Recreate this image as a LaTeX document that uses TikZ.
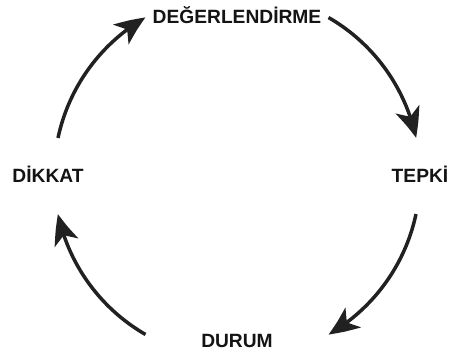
\documentclass[tikz,border=0pt]{standalone}
\usepackage{fontspec}
\setmainfont{Liberation Sans}
\usetikzlibrary{arrows.meta,bending}
\begin{document}
\begin{tikzpicture}[x=1pt,y=1pt,
  label/.style={font=\bfseries\fontsize{19.2}{21}\selectfont, text=black!92, inner sep=0pt},
  cyclearrow/.style={draw=black!87, line width=3.5pt,
    -{Stealth[length=30pt,width=25pt,inset=8pt,bend]}}]
  \useasboundingbox (0,0) rectangle (450,356);
  \coordinate (c) at (237,180);
  \def\r{183}
  % stage labels
  \node[label] (deg) at (237,341) {DEĞERLENDİRME};
  \node[label] (tep) at (420,182) {TEPKİ};
  \node[label] (dur) at (237,15) {DURUM};
  \node[label] (dik) at (48,182) {DİKKAT};
  % arc end points on the cycle
  \coordinate (a1) at ([shift=(168:\r)]c);
  \coordinate (a2) at ([shift=(60:\r)]c);
  \coordinate (a3) at ([shift=(-12:\r)]c);
  \coordinate (a4) at ([shift=(240:\r)]c);
  % clockwise arrows between the stages
  \draw[cyclearrow] (a1) arc[start angle=168, end angle=120, radius=\r];
  \draw[cyclearrow] (a2) arc[start angle=60, end angle=12, radius=\r];
  \draw[cyclearrow] (a3) arc[start angle=-12, end angle=-60, radius=\r];
  \draw[cyclearrow] (a4) arc[start angle=240, end angle=192, radius=\r];
\end{tikzpicture}
\end{document}
